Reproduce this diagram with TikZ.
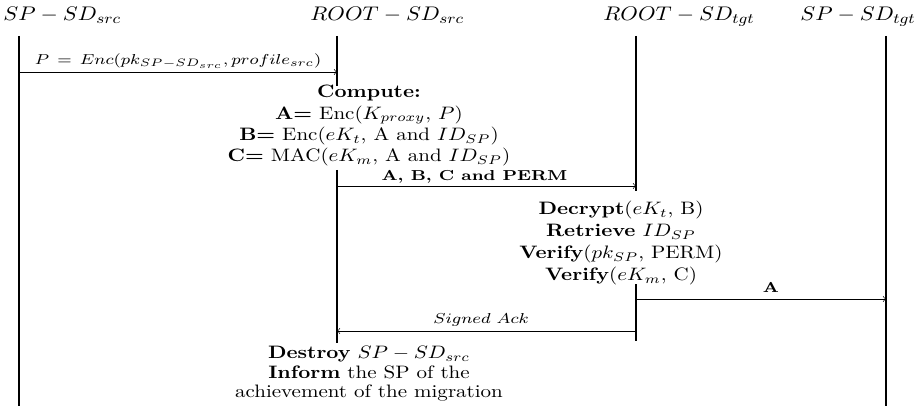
\documentclass[tikz,border=0pt]{standalone}
\begin{document}
\begin{tikzpicture}[x=0.5556pt,y=-0.5556pt,
  head/.style={anchor=base west,inner sep=0pt,xscale=1.13,font=\fontsize{10.8}{13}\selectfont},
  life/.style={line width=0.65pt},
  msg/.style={->,line width=0.35pt},
  msglabel/.style={anchor=base,inner sep=0pt,xscale=1.21,font=\footnotesize},
  block/.style={align=center,anchor=north,inner sep=0pt,xscale=1.167}]
\useasboundingbox (0,0) rectangle (922,406);
% headers
\node[head] (h1) at (3,21) {$SP-SD_{src}$};
\node[head] (h2) at (310,21) {$ROOT-SD_{src}$};
\node[head] (h3) at (603,21) {$ROOT-SD_{tgt}$};
\node[head] (h4) at (800,21) {$SP-SD_{tgt}$};
% lifeline points
\coordinate (l1t) at (19,36);  \coordinate (l1b) at (19,406);
\coordinate (l2t) at (337,36); \coordinate (l2a) at (337,86);
\coordinate (l2b) at (337,170); \coordinate (l2c) at (337,343);
\coordinate (l3t) at (636,36); \coordinate (l3a) at (636,191);
\coordinate (l3b) at (636,284); \coordinate (l3c) at (636,341);
\coordinate (l4t) at (886,36); \coordinate (l4b) at (886,406);
\draw[life] (l1t) -- (l1b);
\draw[life] (l2t) -- (l2a);
\draw[life] (l2b) -- (l2c);
\draw[life] (l3t) -- (l3a);
\draw[life] (l3b) -- (l3c);
\draw[life] (l4t) -- (l4b);
% message points
\coordinate (m1s) at (19,72);  \coordinate (m1e) at (337,72);
\coordinate (m2s) at (337,186); \coordinate (m2e) at (636,186);
\coordinate (m3s) at (636,299); \coordinate (m3e) at (886,299);
\coordinate (m4s) at (636,331); \coordinate (m4e) at (337,331);
\draw[msg] (m1s) -- node[msglabel,yshift=4.2pt] (t1) {$P\,=\,Enc(pk_{SP-SD_{src}},profile_{src})$} (m1e);
\draw[msg] (m2s) -- node[msglabel,yshift=3.2pt,xshift=-5.5pt] (t2) {\textbf{A, B, C and PERM}} (m2e);
\draw[msg] (m3s) -- node[msglabel,yshift=3.6pt,xshift=4.5pt] (t3) {\textbf{A}} (m3e);
\draw[msg] (m4s) -- node[msglabel,yshift=4.4pt,xshift=-2.5pt] (t4) {$Signed\ Ack$} (m4e);
% blocks
\node[block,font=\fontsize{10}{11.8}\selectfont] (b1) at (369,85) {\textbf{Compute:}\\
  \textbf{A=} Enc($K_{proxy}$, $P$)\\
  \textbf{B=} Enc($eK_t$, A and $ID_{SP}$)\\
  \textbf{C=} MAC($eK_m$, A and $ID_{SP}$)};
\node[block,font=\fontsize{10}{12.2}\selectfont] (b2) at (621,201) {\textbf{Decrypt}($eK_t$, B)\\
  \textbf{Retrieve} $ID_{SP}$\\
  \textbf{Verify}($pk_{SP}$, PERM)\\
  \textbf{Verify}($eK_m$, C)};
\node[block,font=\fontsize{10}{10.8}\selectfont] (b3) at (369,346) {\textbf{Destroy} $SP-SD_{src}$\\
  \textbf{Inform} the SP of the\\
  achievement of the migration};
\end{tikzpicture}
\end{document}
